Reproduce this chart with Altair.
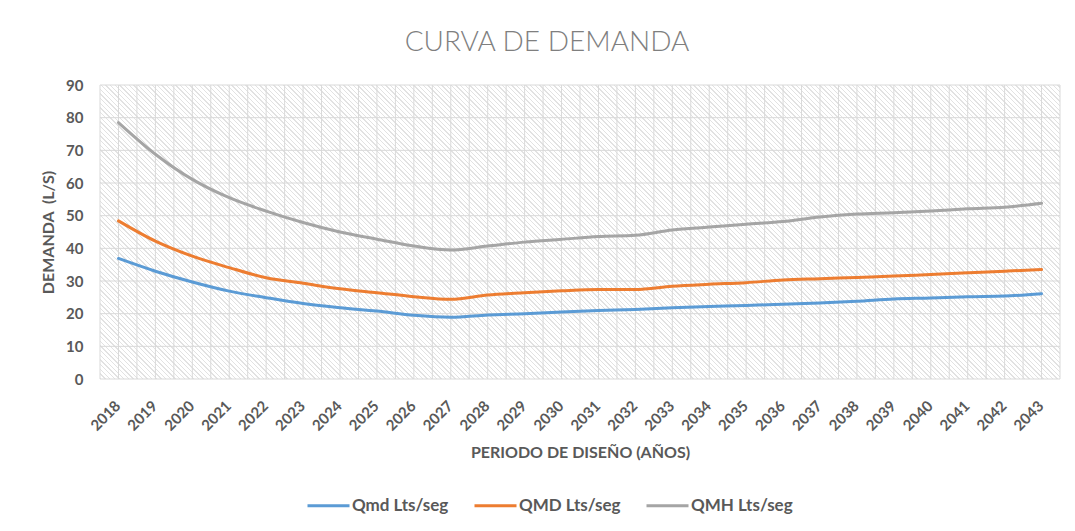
import altair as alt
import pandas as pd

# ---- data ----
years = list(range(2018, 2044))
qmd = [36.9, 33.0, 29.7, 26.9, 24.9, 23.1, 21.8, 20.8, 19.5, 18.9, 19.6, 20.0, 20.5,
       21.0, 21.3, 21.8, 22.2, 22.5, 22.9, 23.3, 23.8, 24.5, 24.8, 25.2, 25.4, 26.1]
qmd_max = [48.4, 42.2, 37.6, 34.1, 31.0, 29.3, 27.6, 26.4, 25.2, 24.4, 25.7, 26.4, 27.0,
           27.4, 27.4, 28.4, 29.0, 29.5, 30.3, 30.7, 31.1, 31.5, 32.0, 32.5, 33.0, 33.5]
qmh = [78.5, 68.8, 61.1, 55.5, 51.4, 47.9, 45.0, 42.8, 40.7, 39.5, 40.7, 41.9, 42.75,
       43.6, 44.0, 45.6, 46.5, 47.4, 48.2, 49.6, 50.5, 50.9, 51.4, 52.1, 52.6, 53.8]
series_names = ["Qmd Lts/seg", "QMD Lts/seg", "QMH Lts/seg"]
series_colors = ["#5B9BD5", "#ED7D31", "#A5A5A5"]
y_ticks = list(range(0, 100, 10))

W, H = 960, 294
TXT = "#595959"
FONT = "Lato"

x_domain = [years[0] - 0.5, years[-1] + 0.5]
x_grid = [years[0] - 0.5 + 0.5 * i for i in range(2 * len(years) + 1)]

rows = []
for name, vals in zip(series_names, [qmd, qmd_max, qmh]):
    for yr, v in zip(years, vals):
        rows.append({"year": yr, "value": v, "serie": name})
df = pd.DataFrame(rows)

xscale = alt.Scale(domain=x_domain, nice=False, zero=False)
yscale = alt.Scale(domain=[0, 90], nice=False, zero=True)

x_axis = alt.Axis(values=years, format="d", labelAngle=-45, labelAlign="right",
                  labelBaseline="middle", labelPadding=24, labelOffset=-1, labelFont=FONT,
                  labelFontSize=15, labelFontWeight="bold", labelColor=TXT,
                  labelOverlap=False, labelFlush=False, ticks=False, domain=False,
                  grid=False, title="PERIODO DE DISEÑO (AÑOS)", titleFont=FONT,
                  titleFontSize=16, titleFontWeight="bold", titleColor=TXT,
                  titlePadding=11)
y_axis = alt.Axis(values=y_ticks, labelFont=FONT, labelFontSize=15,
                  labelFontWeight="bold", labelColor=TXT, labelPadding=17,
                  ticks=False, domain=False, grid=False,
                  title="DEMANDA\u00a0\u00a0(L/S)", titleFont=FONT, titleFontSize=16,
                  titleFontWeight="bold", titleColor=TXT, titlePadding=9)


def hatch_gradient(w, h, period=3.3, line=1.1, color="#e2e2e2"):
    r = h / w
    t = (1 + r) / (1 + r * r)
    x2, y2 = t * 1.0, 1 - t * r
    length = (w + h) / 2 ** 0.5
    stops = []
    k = 0
    while True:
        a = k * period / length
        if a >= 1:
            break
        b = min((k * period + line) / length, 1.0)
        stops += [
            {"offset": round(a, 6), "color": "#ffffff"},
            {"offset": round(a, 6), "color": color},
            {"offset": round(b, 6), "color": color},
            {"offset": round(b, 6), "color": "#ffffff"},
        ]
        k += 1
    return {"gradient": "linear", "x1": 0, "y1": 1, "x2": x2, "y2": y2, "stops": stops}


bg_df = pd.DataFrame({"x0": [x_domain[0]], "x1": [x_domain[1]], "y0": [0], "y1": [90]})
background = alt.Chart(bg_df).mark_rect(fill=hatch_gradient(W, H)).encode(
    x=alt.X("x0:Q", scale=xscale, axis=x_axis),
    x2="x1",
    y=alt.Y("y0:Q", scale=yscale, axis=y_axis),
    y2="y1",
)

vgrid = alt.Chart(pd.DataFrame({"gx": x_grid})).mark_rule(color="#d9d9d9", strokeWidth=1).encode(
    x=alt.X("gx:Q", scale=xscale, axis=x_axis)
)
hgrid = alt.Chart(pd.DataFrame({"gy": y_ticks})).mark_rule(color="#d9d9d9", strokeWidth=1).encode(
    y=alt.Y("gy:Q", scale=yscale, axis=y_axis)
)

lines = alt.Chart(df).mark_line(interpolate="monotone", strokeWidth=3, strokeCap="round").encode(
    x=alt.X("year:Q", scale=xscale, axis=x_axis),
    y=alt.Y("value:Q", scale=yscale, axis=y_axis),
    color=alt.Color("serie:N",
                    scale=alt.Scale(domain=series_names, range=series_colors),
                    legend=alt.Legend(title=None, orient="none", legendX=206, legendY=398,
                                      direction="horizontal", symbolType="stroke",
                                      symbolSize=1764, symbolStrokeWidth=3,
                                      labelFont=FONT, labelFontSize=17,
                                      labelFontWeight="bold", labelColor=TXT,
                                      labelOffset=1, columnPadding=19)),
    detail="serie:N",
)

chart = alt.layer(background, vgrid, hgrid, lines).properties(
    width=W,
    height=H,
    title=alt.TitleParams("CURVA DE DEMANDA", font="Lato", fontSize=28, fontWeight=300,
                          color="#7f7f7f", anchor="middle", dx=-33, offset=21),
    autosize=alt.AutoSizeParams(type="none"),
    padding={"left": 92, "top": 77, "right": 7, "bottom": 144},
    background="white",
).configure_view(stroke=None)

chart.save("out.html", embed_options={"renderer": "svg", "actions": False})
